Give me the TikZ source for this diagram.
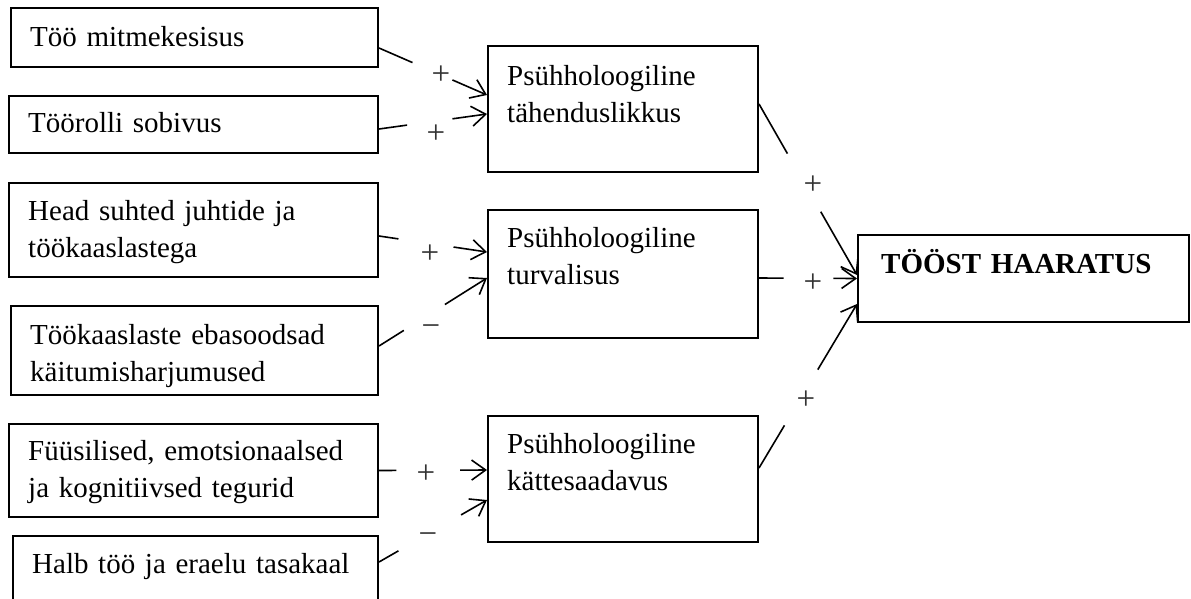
\documentclass[tikz,border=0pt]{standalone}
\usepackage{fontspec}
\setmainfont{Liberation Serif}
\usetikzlibrary{arrows.meta,calc}

\begin{document}
\begin{tikzpicture}[x=1pt,y=-1pt,
  box/.style={draw, line width=2pt, rectangle, anchor=north west, inner sep=0pt},
  txt/.style={anchor=base west, inner sep=0pt, align=left, text width=350pt,
              font=\fontsize{29}{37}\selectfont},
  link/.style={line width=1.6pt},
  arrowlink/.style={link, -{Straight Barb[length=14pt,width=20pt]}},
  sign/.style={inner sep=0pt, text height=17pt, text depth=0pt,
               font=\fontsize{33}{33}\selectfont, text=black!80}
]
\clip (0,0) rectangle (1191,598);
\fill[white] (0,0) rectangle (1191,598);

% factor boxes (left column)
\node[box, minimum width=367pt, minimum height=59pt] (b1) at (10,7) {};
\node[box, minimum width=369pt, minimum height=57pt] (b2) at (8,95) {};
\node[box, minimum width=369pt, minimum height=94pt] (b3) at (8,182) {};
\node[box, minimum width=367pt, minimum height=89pt] (b4) at (10,305) {};
\node[box, minimum width=369pt, minimum height=93pt] (b5) at (8,423) {};
\node[box, minimum width=365pt, minimum height=90pt] (b6) at (12,535) {};

\node[txt] (b1t) at (30,46)  {Töö mitmekesisus};
\node[txt] (b2t) at (28,132) {Töörolli sobivus};
\node[txt] (b3t) at (28,220) {Head suhted juhtide ja\\töökaaslastega};
\node[txt] (b4t) at (30,344) {Töökaaslaste ebasoodsad\\käitumisharjumused};
\node[txt] (b5t) at (28,460) {Füüsilised, emotsionaalsed\\ja kognitiivsed tegurid};
\node[txt] (b6t) at (32,573) {Halb töö ja eraelu tasakaal};

% psychological conditions (middle column)
\node[box, minimum width=270pt, minimum height=126pt] (m1) at (487,45) {};
\node[box, minimum width=270pt, minimum height=128pt] (m2) at (487,209) {};
\node[box, minimum width=270pt, minimum height=126pt] (m3) at (487,415) {};

\node[txt] (m1t) at (507,85)  {Psühholoogiline\\tähenduslikkus};
\node[txt] (m2t) at (507,247) {Psühholoogiline\\turvalisus};
\node[txt] (m3t) at (507,453) {Psühholoogiline\\kättesaadavus};

% outcome
\node[box, minimum width=331pt, minimum height=87pt] (r) at (857,234) {};
\node[txt, font=\fontsize{29}{37}\selectfont\bfseries] (rt) at (881,273) {TÖÖST HAARATUS};

% connector end points
\coordinate (c1s) at ($(b1.east)+(0,10.5)$);  \coordinate (c1e) at ($(m1.west)+(0,-14)$);
\coordinate (c2s) at ($(b2.east)+(0,4.5)$);   \coordinate (c2e) at ($(m1.west)+(0,5)$);
\coordinate (c3s) at ($(b3.east)+(0,6)$);     \coordinate (c3e) at ($(m2.west)+(0,-22)$);
\coordinate (c4s) at ($(b4.east)+(0,-4.5)$);  \coordinate (c4e) at ($(m2.west)+(0,4)$);
\coordinate (c5s) at (b5.east);               \coordinate (c5e) at ($(m3.west)+(0,-9)$);
\coordinate (c6s) at ($(b6.north east)+(0,27)$); \coordinate (c6e) at ($(m3.west)+(0,21)$);
\coordinate (c7s) at ($(m1.east)+(0,-5)$);    \coordinate (c7e) at ($(r.west)+(0,-3.5)$);
\coordinate (c8s) at ($(m2.east)+(0,4)$);     \coordinate (c8e) at (r.west);
\coordinate (c9s) at ($(m3.east)+(0,-11)$);   \coordinate (c9e) at ($(r.west)+(0,25.5)$);

% broken connectors: tail segment, gap for the sign, arrow segment
\foreach \c/\a/\b in {1/0.31/0.68, 2/0.26/0.68, 3/0.18/0.69, 4/0.23/0.61,
                      5/0.16/0.75, 6/0.18/0.76, 7/0.29/0.63, 8/0.25/0.76, 9/0.26/0.60}{
  \draw[link] (c\c s) -- ($(c\c s)!\a!(c\c e)$);
  \draw[arrowlink] ($(c\c s)!\b!(c\c e)$) -- (c\c e);
}

% signs of the effects
\node[sign] (s1) at (441,76)  {+};
\node[sign] (s2) at (436,135) {+};
\node[sign] (s3) at (430,255) {+};
\node[sign] (s4) at (431,328) {−};
\node[sign] (s5) at (426,475) {+};
\node[sign] (s6) at (428,536) {−};
\node[sign] (s7) at (813,186) {+};
\node[sign] (s8) at (813,284) {+};
\node[sign] (s9) at (806,401) {+};
\end{tikzpicture}
\end{document}
